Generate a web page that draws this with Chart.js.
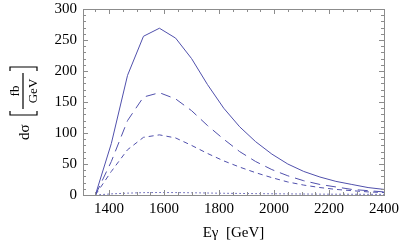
<!DOCTYPE html>
<html>
<head>
<meta charset="utf-8">
<script src="https://cdn.jsdelivr.net/npm/chart.js@4"></script>
<style>
  html, body { margin: 0; padding: 0; background: #fff; }
  #wrap { width: 400px; height: 242px; }
</style>
</head>
<body>
<div id="wrap"><canvas id="c" width="400" height="242"></canvas></div>
<script>
// photon energy grid (GeV)
const energy = [1350, 1408, 1467, 1525, 1583, 1642, 1700, 1758, 1817, 1875, 1933, 1992, 2050, 2108, 2167, 2225, 2283, 2342, 2400];
// dsigma/dE (fb/GeV) for the four curves
const solidCurve = [0, 83, 193, 256, 269, 253, 220, 178, 140, 110, 86, 66, 50, 38, 29, 22, 17, 12, 9];
const longDash   = [0, 54, 120, 158, 165, 155, 136, 112, 90, 70, 54, 41, 31, 23, 17, 13, 9, 7, 5];
const shortDash  = [0, 38, 73, 93, 97, 92, 80, 67, 55, 45, 36, 28, 21, 16, 12, 9, 7, 5, 4];
const dotted     = [0, 1.8, 3, 3.8, 4, 3.9, 3.6, 3.2, 2.8, 2.5, 2.2, 2, 1.8, 1.6, 1.4, 1.3, 1.2, 1.1, 1];

const xTicks = [1400, 1600, 1800, 2000, 2200, 2400];
const yTicks = [0, 50, 100, 150, 200, 250, 300];

const lineColor = "rgb(80, 80, 172)";
const serif = "'Liberation Serif', 'DejaVu Serif', serif";

function pts(ys) {
    return energy.map((x, i) => ({ x: x, y: ys[i] }));
}

function curve(ys, dash) {
    return {
        data: pts(ys),
        borderColor: lineColor,
        borderWidth: 1,
        borderDash: dash,
        pointRadius: 0,
        tension: 0,
        fill: false
    };
}

// frame with inward ticks, plus the axis titles
const framePlugin = {
    id: "frame",
    afterDraw(chart) {
        const ctx = chart.ctx;
        const a = chart.chartArea;
        const xs = chart.scales.x, ys = chart.scales.y;
        ctx.save();
        ctx.strokeStyle = "#8c8c8c";
        ctx.lineWidth = 1;
        ctx.strokeRect(Math.round(a.left) + 0.5, Math.round(a.top) + 0.5,
            Math.round(a.right - a.left), Math.round(a.bottom - a.top));

        ctx.beginPath();
        for (let v = 1350; v <= 2400; v += 50) {
            const px = Math.round(xs.getPixelForValue(v)) + 0.5;
            const len = (v % 200 === 0) ? 5 : 3;
            ctx.moveTo(px, a.bottom); ctx.lineTo(px, a.bottom - len);
            ctx.moveTo(px, a.top); ctx.lineTo(px, a.top + len);
        }
        for (let v = 0; v <= 300; v += 10) {
            const py = Math.round(ys.getPixelForValue(v)) + 0.5;
            const len = (v % 50 === 0) ? 5 : 3;
            ctx.moveTo(a.left, py); ctx.lineTo(a.left + len, py);
            ctx.moveTo(a.right, py); ctx.lineTo(a.right - len, py);
        }
        ctx.stroke();

        // x title
        ctx.fillStyle = "#000";
        ctx.font = "15px " + serif;
        ctx.textAlign = "center";
        ctx.textBaseline = "alphabetic";
        ctx.fillText("E\u03b3  [GeV]", (a.left + a.right) / 2, 237);

        // y title: dσ [ fb / GeV ], rotated
        ctx.translate(23, 195);
        ctx.rotate(-Math.PI / 2);
        ctx.textAlign = "left";
        ctx.fillText("d\u03c3", 55, 6);
        ctx.font = "13px " + serif;
        ctx.textAlign = "center";
        ctx.fillText("fb", 104, -4);
        ctx.fillText("GeV", 104, 14);
        ctx.strokeStyle = "#000";
        ctx.lineWidth = 1.2;
        ctx.beginPath();
        ctx.moveTo(86, 0); ctx.lineTo(122, 0);
        // brackets
        ctx.moveTo(84, -13); ctx.lineTo(80, -13); ctx.lineTo(80, 14); ctx.lineTo(84, 14);
        ctx.moveTo(124, -13); ctx.lineTo(128, -13); ctx.lineTo(128, 14); ctx.lineTo(124, 14);
        ctx.stroke();
        ctx.restore();
    }
};

new Chart(document.getElementById("c"), {
    type: "line",
    data: {
        datasets: [
            curve(solidCurve, []),
            curve(longDash, [10, 6]),
            curve(shortDash, [5, 4]),
            curve(dotted, [1.5, 2.5])
        ]
    },
    options: {
        responsive: false,
        animation: false,
        devicePixelRatio: 1,
        layout: { padding: { top: 9, right: 16, left: 0, bottom: 0 } },
        plugins: {
            legend: { display: false },
            tooltip: { enabled: false }
        },
        scales: {
            x: {
                type: "linear",
                min: 1305,
                max: 2400,
                afterBuildTicks: s => { s.ticks = xTicks.map(v => ({ value: v })); },
                afterFit: s => { s.height = 47; s.paddingLeft = 0; s.paddingRight = 0; },
                grid: { display: false, drawTicks: false },
                border: { display: false },
                ticks: {
                    color: "#000", font: { family: serif, size: 15 }, padding: 5, maxRotation: 0,
                    callback: v => String(v)
                }
            },
            y: {
                min: 0,
                max: 300,
                afterBuildTicks: s => { s.ticks = yTicks.map(v => ({ value: v })); },
                afterFit: s => { s.width = 83; s.paddingTop = 0; s.paddingBottom = 0; },
                grid: { display: false, drawTicks: false },
                border: { display: false },
                ticks: { color: "#000", font: { family: serif, size: 15 }, padding: 6 }
            }
        }
    },
    plugins: [framePlugin]
});
</script>
</body>
</html>
